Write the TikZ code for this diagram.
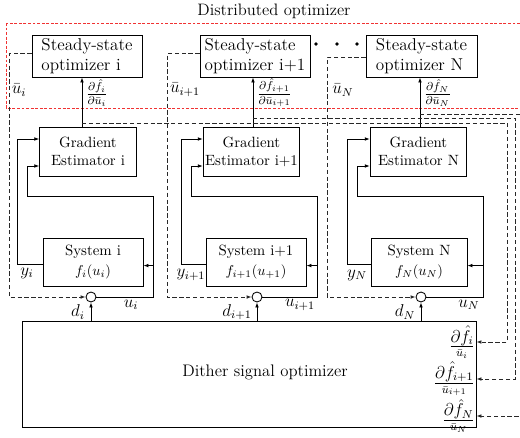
\documentclass[tikz,border=0pt]{standalone}
\usepackage{amsmath}
\usetikzlibrary{arrows.meta}
\definecolor{redd}{RGB}{240,50,50}
\definecolor{dgray}{RGB}{40,40,40}
\begin{document}
\begin{tikzpicture}[x=0.7pt,y=-0.7pt,
  line width=0.6pt,
  box/.style={draw, inner sep=1pt},
  ssbox/.style={box, minimum width=77pt, minimum height=29.4pt, align=left, font=\large},
  gebox/.style={box, minimum width=67.6pt, minimum height=34.3pt, align=center, font=\fontsize{10.4}{12.5}\selectfont},
  sysbox/.style={box, minimum width=70pt, minimum height=33.6pt, align=center, font=\fontsize{10.4}{12.5}\selectfont},
  sumc/.style={draw, circle, minimum size=7pt, inner sep=0pt},
  arr/.style={-{Latex[length=3.5pt,width=2.6pt]}},
  dsh/.style={dgray, dash pattern=on 3pt off 1.8pt},
  dot/.style={circle, fill, inner sep=0pt, minimum size=2.6pt},
  lbl/.style={inner sep=1pt, font=\large}
]
\useasboundingbox (0,0) rectangle (520,437);
\clip (0,0) rectangle (520,437);

% red dashed region
\draw[redd, dash pattern=on 2pt off 1.2pt] (6,23) rectangle (530,108);
\node (title) at (274,11) {\fontsize{11.6}{14}\selectfont Distributed optimizer};

% steady-state optimizers
\node[ssbox] (ss1) at (87,56) {Steady-state\\optimizer i};
\node[ssbox] (ss2) at (255,56) {Steady-state\\optimizer i+1};
\node[ssbox, minimum width=77.7pt] (ss3) at (421.5,56) {Steady-state\\optimizer N};
\node[dot] (dt1) at (316,44) {};
\node[dot] (dt2) at (337,44) {};
\node[dot] (dt3) at (357,44) {};

% gradient estimators
\node[gebox] (ge1) at (88,151.5) {Gradient\\Estimator i};
\node[gebox] (ge2) at (251.5,151.5) {Gradient\\Estimator i+1};
\node[gebox] (ge3) at (418.5,151.5) {Gradient\\Estimator N};

% systems
\node[sysbox] (sys1) at (93,262) {System i\\[1pt]$f_i(u_i)$};
\node[sysbox] (sys2) at (256,262) {System i+1\\[1pt]$f_{i+1}(u_{+1})$};
\node[sysbox, minimum width=67.2pt] (sys3) at (419,262) {System N\\[1pt]$f_N(u_N)$};

% summing junctions
\node[sumc] (c1) at (91,297) {};
\node[sumc] (c2) at (257,297) {};
\node[sumc] (c3) at (421,297) {};

% dither optimizer
\node[box, minimum width=317.8pt, minimum height=74.2pt] (dith) at (249,374) {};
\node (dtxt) at (265,372) {\fontsize{11.7}{14}\selectfont Dither signal optimizer};

% ---------- coordinates
\coordinate (gx1) at (82,0);
\coordinate (gx2) at (253,0);
\coordinate (gx3) at (420,0);
\coordinate (j1) at (82,123);
\coordinate (j2) at (253,118);
\coordinate (j3) at (420,114);
\coordinate (r1) at (507,342);
\coordinate (r2) at (515,379);
\coordinate (r3) at (524,416);

\coordinate (dl1) at (9,297);
\coordinate (dl2) at (167,297);
\coordinate (dl3) at (327,297);

\coordinate (yl1) at (17,139);
\coordinate (yl2) at (181,139);
\coordinate (yl3) at (347,139);

\coordinate (ur1) at (153,196);
\coordinate (ur2) at (317,196);
\coordinate (ur3) at (483,196);
\coordinate (ul1) at (27,166);
\coordinate (ul2) at (191,166);
\coordinate (ul3) at (357,166);

% ---------- gradient to steady-state arrows
\draw[arr] (ge1.north -| gx1) -- (ss1.south -| gx1);
\draw[arr] (ge2.north -| gx2) -- (ss2.south -| gx2);
\draw[arr] (ge3.north -| gx3) -- (ss3.south -| gx3);

% gradient outputs to dither optimizer
\draw[dsh, arr] (j1) -| (r1) -- (r1 -| dith.east);
\draw[dsh, arr] (j2) -| (r2) -- (r2 -| dith.east);
\draw[dsh, arr] (j3) -| (r3) -- (r3 -| dith.east);

% steady-state outputs to summing junctions
\draw[dsh, arr] ([yshift=1.5pt]ss1.west) -| (dl1) -- (c1.west);
\draw[dsh, arr] ([yshift=1.5pt]ss2.west) -| (dl2) -- (c2.west);
\draw[dsh, arr] ([yshift=-1pt]ss3.west) -| (dl3) -- (c3.west);

% outputs y to gradient estimators
\draw[arr] ([yshift=-2pt]sys1.west) -| (yl1) -- (yl1 -| ge1.west);
\draw[arr] ([yshift=-2pt]sys2.west) -| (yl2) -- (yl2 -| ge2.west);
\draw[arr] ([yshift=-2pt]sys3.west) -| (yl3) -- (yl3 -| ge3.west);

% inputs u to gradient estimators and systems
\draw[arr] (c1.east) -| (ur1) -| (ul1) -- (ul1 -| ge1.west);
\draw[arr] (c2.east) -| (ur2) -| (ul2) -- (ul2 -| ge2.west);
\draw[arr] (c3.east) -| (ur3) -| (ul3) -- (ul3 -| ge3.west);
\draw[arr] ([yshift=-2.5pt]sys1.east -| ur1) -- ([yshift=-2.5pt]sys1.east);
\draw[arr] ([yshift=-2.5pt]sys2.east -| ur2) -- ([yshift=-2.5pt]sys2.east);
\draw[arr] ([yshift=-2.5pt]sys3.east -| ur3) -- ([yshift=-2.5pt]sys3.east);

% dither signals
\draw[arr] (c1.south |- dith.north) -- (c1.south);
\draw[arr] (c2.south |- dith.north) -- (c2.south);
\draw[arr] (c3.south |- dith.north) -- (c3.south);

% ---------- labels
\node[lbl] (lu1) at (19,90) {$\bar u_i$};
\node[lbl] (lu2) at (185,90) {$\bar u_{i+1}$};
\node[lbl] (lu3) at (343,90) {$\bar u_N$};
\node[lbl, anchor=west] (lg1) at (84,93) {$\frac{\partial \hat f_i}{\partial \bar u_i}$};
\node[lbl, anchor=west] (lg2) at (255,93) {$\frac{\partial \hat f_{i+1}}{\partial \bar u_{i+1}}$};
\node[lbl, anchor=west] (lg3) at (422,93) {$\frac{\partial \hat f_N}{\partial \bar u_N}$};

\node[lbl] (ly1) at (27,273) {$y_i$};
\node[lbl] (ly2) at (191,275) {$y_{i+1}$};
\node[lbl] (ly3) at (357,275) {$y_N$};
\node[lbl] (luu1) at (131,305) {$u_i$};
\node[lbl] (luu2) at (300,305) {$u_{i+1}$};
\node[lbl] (luu3) at (469,305) {$u_N$};
\node[lbl] (ld1) at (78,312) {$d_i$};
\node[lbl] (ld2) at (237,312) {$d_{i+1}$};
\node[lbl] (ld3) at (405,312) {$d_N$};

\node[lbl, anchor=east] (ldf1) at (477,342) {$\frac{\textstyle\partial \hat f_i}{\bar u_i}$};
\node[lbl, anchor=east] (ldf2) at (477,379) {$\frac{\textstyle\partial \hat f_{i+1}}{\bar u_{i+1}}$};
\node[lbl, anchor=east] (ldf3) at (477,416) {$\frac{\textstyle\partial \hat f_N}{\bar u_N}$};
\end{tikzpicture}
\end{document}
